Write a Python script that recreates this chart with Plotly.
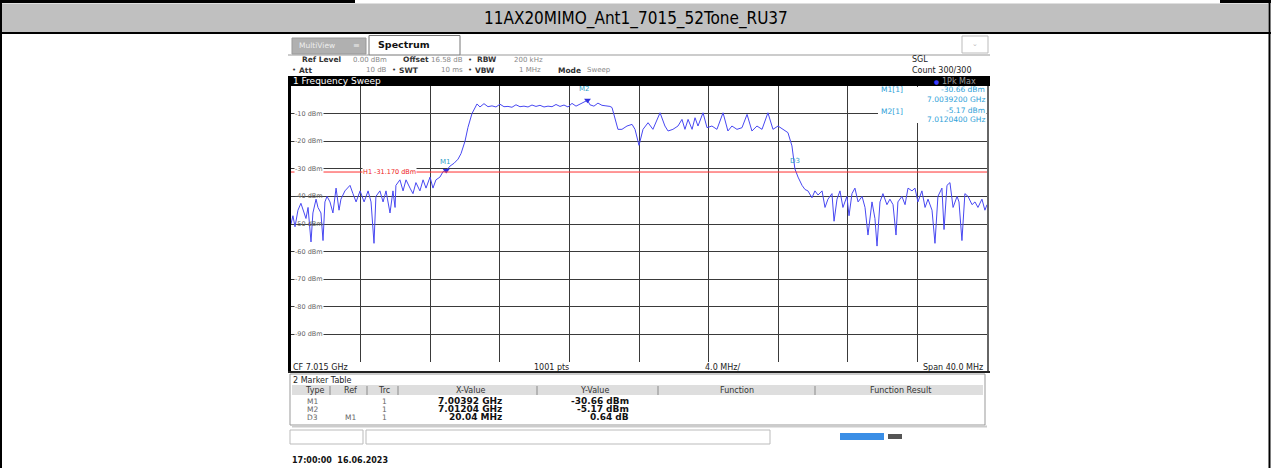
import plotly.graph_objects as go

W, H = 1271, 468

# ---------------- data ----------------
freq_mhz = [
    6995.00, 6995.11, 6995.23, 6995.40, 6995.57, 6995.75, 6995.86, 6995.98, 6996.15, 6996.26,
    6996.44, 6996.55, 6996.72, 6996.84, 6996.95, 6997.07, 6997.24, 6997.41, 6997.59, 6997.76,
    6997.87, 6998.10, 6998.39, 6998.56, 6998.74, 6998.97, 6999.20, 6999.43, 6999.60, 6999.77,
    6999.88, 7000.11, 7000.29, 7000.46, 7000.69, 7000.86, 7000.98, 7001.03, 7001.26, 7001.44,
    7001.61, 7001.84, 7002.01, 7002.18, 7002.41, 7002.59, 7002.76, 7002.99, 7003.16, 7003.33,
    7003.56, 7003.74, 7003.92, 7004.14, 7004.37, 7004.60, 7004.77, 7005.00, 7005.17, 7005.40,
    7005.57, 7005.69,
    7005.86, 7006.09, 7006.32, 7006.55, 7006.78, 7007.01, 7007.24, 7007.47, 7007.70, 7007.93,
    7008.16, 7008.39, 7008.62, 7008.85, 7009.08, 7009.31, 7009.54, 7009.77, 7010.00, 7010.23,
    7010.46, 7010.69, 7010.92, 7011.15, 7011.38, 7011.61, 7011.84, 7012.04, 7012.18, 7012.41,
    7012.64, 7012.87, 7013.10, 7013.33, 7013.45, 7013.62, 7013.79,
    7014.02, 7014.31, 7014.60, 7014.77, 7015.00, 7015.23, 7015.52, 7015.80, 7016.21, 7016.49,
    7016.67, 7016.95, 7017.24, 7017.47, 7017.64, 7017.82, 7018.05, 7018.22, 7018.39, 7018.68,
    7018.91, 7019.19, 7019.48, 7019.83, 7020.11, 7020.34, 7020.63, 7020.92, 7021.21, 7021.49,
    7021.78, 7022.07, 7022.41, 7022.70, 7022.99, 7023.28, 7023.56, 7023.79, 7023.96,
    7024.14, 7024.37, 7024.54, 7024.71, 7024.94, 7025.11, 7025.29, 7025.52, 7025.69, 7025.86,
    7026.09, 7026.21, 7026.38, 7026.55, 7026.72, 7026.95, 7027.07, 7027.24, 7027.41, 7027.59,
    7027.82, 7027.99, 7028.16, 7028.39, 7028.56, 7028.68, 7028.85, 7029.02, 7029.25, 7029.42,
    7029.60, 7029.77, 7029.88, 7030.11, 7030.29, 7030.46, 7030.69, 7030.86, 7031.03, 7031.26,
    7031.44, 7031.61, 7031.84, 7032.01, 7032.18, 7032.41, 7032.53, 7032.70, 7032.87, 7033.05,
    7033.28, 7033.39, 7033.56, 7033.73, 7033.91, 7034.14, 7034.31, 7034.48, 7034.71, 7034.88,
    7035.00,
]
level_dbm = [
    -50, -47, -51, -45, -42.5, -46, -48, -44, -56.5, -46,
    -41, -44, -46, -56, -42, -40, -42, -46, -37, -45,
    -41, -38, -36, -39, -42, -38, -42, -38, -42, -57,
    -40, -38, -42, -38, -46, -38, -44, -36, -34, -38,
    -34, -37, -39, -35, -38, -34, -37, -33, -37, -34,
    -33, -31, -30.66, -29, -28, -26.5, -24.5, -20, -15, -10,
    -8, -6.5,
    -7.6, -6.4, -7.5, -7.2, -7.6, -6.6, -7.5, -7.4, -7.7, -6.8,
    -7.5, -7.3, -7.6, -6.9, -7.4, -7.0, -7.6, -7.3, -7.5, -6.7,
    -7.4, -6.9, -7.6, -6.3, -7.3, -6.5, -6.0, -5.17, -6.8, -7.3,
    -6.2, -7.0, -7.2, -7.4, -7.8, -12.1, -15.7,
    -15.7, -14.5, -13.9, -15.7, -21.5, -15.7, -13.3, -15.7, -9.7, -14.5,
    -16.3, -15.7, -14.5, -12.1, -15.7, -12.1, -15.7, -11.5, -14.5, -9.7,
    -15.1, -14.5, -15.7, -9.7, -16.3, -14.5, -15.7, -15.1, -10.3, -16.3,
    -14.5, -15.7, -9.7, -15.7, -14.5, -15.7, -16.9, -21.7, -30.02,
    -33, -36, -37.5, -38, -40.5, -38, -39.5, -38, -44, -41,
    -39, -49, -41, -38, -44, -40, -47, -39, -37, -42,
    -40, -44, -54, -42, -48, -58, -42, -39, -43, -41,
    -43, -54, -42, -40, -43, -37, -38, -37, -42, -38,
    -44, -41, -45, -57, -40, -37, -52, -36, -35, -44,
    -40, -42, -56, -39, -40, -43, -42, -44, -41, -45,
    -43,
]

marker_names = ["M1", "M2", "D3"]
marker_freq_mhz = [7003.92, 7012.04, 7023.96]
marker_level_dbm = [-30.66, -5.17, -30.02]

display_line_dbm = -31.17
display_line_label = "H1 -31.170 dBm"

y_tick_values = [-10, -20, -30, -40, -50, -60, -70, -80, -90]
y_tick_labels = ["-10 dBm", "-20 dBm", "-30 dBm", "-40 dBm", "-50 dBm",
                 "-60 dBm", "-70 dBm", "-80 dBm", "-90 dBm"]

table_type = ["M1", "M2", "D3"]
table_ref = ["", "", "M1"]
table_trc = ["1", "1", "1"]
table_x = ["7.00392 GHz", "7.01204 GHz", "20.04 MHz"]
table_y = ["-30.66 dBm", "-5.17 dBm", "0.64 dB"]

title_text = "11AX20MIMO_Ant1_7015_52Tone_RU37"

# ---------------- helpers ----------------
def px(x):
    return x / W


def py(y):
    return 1 - y / H


shapes = []
annotations = []
FONT = "DejaVu Sans"


def rect(x0, y0, x1, y1, fill="rgba(0,0,0,0)", line=None, lw=1, layer="above"):
    shapes.append(dict(type="rect", xref="paper", yref="paper",
                       x0=px(x0), x1=px(x1), y0=py(y1), y1=py(y0),
                       fillcolor=fill,
                       line=dict(color=line if line else "rgba(0,0,0,0)", width=lw if line else 0),
                       layer=layer))


def hline(x0, x1, y, color, w):
    shapes.append(dict(type="line", xref="paper", yref="paper",
                       x0=px(x0), x1=px(x1), y0=py(y), y1=py(y),
                       line=dict(color=color, width=w), layer="above"))


def vline(x, y0, y1, color, w):
    shapes.append(dict(type="line", xref="paper", yref="paper",
                       x0=px(x), x1=px(x), y0=py(y0), y1=py(y1),
                       line=dict(color=color, width=w), layer="above"))


def text(x, y, s, size=8, color="#222", anchor="left", bold=False, family=FONT, bg="rgba(0,0,0,0)"):
    annotations.append(dict(xref="paper", yref="paper", x=px(x), y=py(y),
                            text=f"<b>{s}</b>" if bold else s, showarrow=False,
                            xanchor=anchor, yanchor="middle", borderpad=0,
                            font=dict(size=size, color=color, family=family), bgcolor=bg))


# ---------------- figure ----------------
fig = go.Figure()

fig.add_trace(go.Scatter(x=freq_mhz, y=level_dbm, mode="lines",
                         line=dict(color="#4848f2", width=1),
                         hoverinfo="skip", showlegend=False))
fig.add_trace(go.Scatter(x=marker_freq_mhz[:2], y=marker_level_dbm[:2], mode="markers",
                         marker=dict(symbol="triangle-down", size=6, color="#3030e0"),
                         hoverinfo="skip", showlegend=False))

# display line H1
shapes.append(dict(type="line", xref="x", yref="y", x0=6995, x1=7035,
                   y0=display_line_dbm, y1=display_line_dbm,
                   line=dict(color="#ff3030", width=1), layer="above"))
annotations.append(dict(xref="paper", yref="y", x=px(362), y=display_line_dbm,
                        text=display_line_label, showarrow=False, xanchor="left",
                        yanchor="middle", borderpad=0, bgcolor="white",
                        font=dict(size=6.5, color="#ee2020", family=FONT)))

# marker labels
for name, f, lv, dx, dy in zip(marker_names, marker_freq_mhz, marker_level_dbm,
                               [-1, -3, 0], [9, 11, 8]):
    annotations.append(dict(xref="x", yref="y", x=f, y=lv, text=name, showarrow=False,
                            xshift=dx, yshift=dy, xanchor="center", yanchor="middle",
                            font=dict(size=7, color="#30a0c8", family=FONT)))

# y axis level labels inside the grid
for v, lab in zip(y_tick_values, y_tick_labels):
    bg = "rgba(0,0,0,0)" if v in (-40, -50) else "white"
    annotations.append(dict(xref="paper", yref="y", x=px(294), y=v, text=lab,
                            showarrow=False, xanchor="left", yanchor="middle",
                            borderpad=0, bgcolor=bg,
                            font=dict(size=6.5, color="#666", family=FONT)))

# ---- table frame and title ----
hline(0, 355, 1.5, "#000", 3)
hline(1220, 1271, 1.5, "#000", 3)
rect(2, 3.5, 1268, 32.5, fill="#c0c0c0")
hline(0, 1271, 33, "#000", 2)
vline(1, 0, 468, "#000", 2)
vline(1269.5, 0, 468, "#000", 2)
text(636, 18.5, title_text, size=17, color="#000", anchor="center",
     family="Liberation Sans Narrow, DejaVu Sans Condensed, Liberation Sans, sans-serif")

# ---- instrument screenshot chrome ----
rect(292, 38, 366, 54, fill="#b0b0b0", line="#999")
text(298, 46, "MultiView", size=7.5, color="#eeeeee")
text(352, 46, "≡", size=8, color="#eeeeee")
rect(369, 35.5, 460, 55, fill="white", line="#777")
text(377, 45, "Spectrum", size=9.5, color="#111", bold=True)
hline(460, 990, 55, "#999", 1)
hline(288, 369, 55, "#999", 1)
rect(962, 36, 988, 53, fill="white", line="#bbb")
text(975, 44, "⌄", size=7, color="#bbb", anchor="center")

# header settings
text(301, 60, "Ref Level", size=7.5, color="#333", bold=True)
text(388, 60, "0.00 dBm", size=7, color="#888", anchor="right")
text(402, 60, "Offset", size=7.5, color="#333", bold=True)
text(464, 60, "16.58 dB", size=7, color="#888", anchor="right")
text(467, 60, "•", size=7, color="#333")
text(476, 60, "RBW", size=7.5, color="#333", bold=True)
text(513, 60, "200 kHz", size=7, color="#888")

text(291, 70, "•", size=7, color="#333")
text(298, 70, "Att", size=7.5, color="#333", bold=True)
text(388, 70, "10 dB", size=7, color="#888", anchor="right")
text(391, 70, "•", size=7, color="#333")
text(398, 70, "SWT", size=7.5, color="#333", bold=True)
text(464, 70, "10 ms", size=7, color="#888", anchor="right")
text(467, 70, "•", size=7, color="#333")
text(474, 70, "VBW", size=7.5, color="#333", bold=True)
text(542, 70, "1 MHz", size=7, color="#888", anchor="right")
text(557, 70, "Mode", size=7.5, color="#333", bold=True)
text(586, 70, "Sweep", size=7, color="#888")

text(911, 60, "SGL", size=8, color="#222")
text(911, 70, "Count 300/300", size=8, color="#222")

# black title bar of the diagram
rect(288, 76, 990, 86, fill="#000")
text(292, 81, "1 Frequency Sweep", size=9, color="#ffffff")
text(933, 81, "●", size=6, color="#3a3aff")
text(941, 81, "1Pk Max", size=8, color="#9a9a9a")

# diagram borders
vline(289.5, 86, 372, "#000", 3)
vline(988, 86, 372, "#333", 1.5)
hline(288, 990, 372, "#222", 2)

# marker info box (top right)
rect(878, 87, 986.5, 123, fill="white")
mcol = "#2f9fd8"
text(880, 90, "M1[1]", size=7.5, color=mcol)
text(986, 90, "-30.66 dBm", size=7.5, color=mcol, anchor="right")
text(986, 99, "7.0039200 GHz", size=7.5, color=mcol, anchor="right")
text(880, 111, "M2[1]", size=7.5, color=mcol)
text(986, 110, "-5.17 dBm", size=7.5, color=mcol, anchor="right")
text(986, 120, "7.0120400 GHz", size=7.5, color=mcol, anchor="right")

# footer of diagram
text(292, 367, "CF 7.015 GHz", size=8, color="#222")
text(551, 367, "1001 pts", size=8, color="#222", anchor="center")
text(722, 367, "4.0 MHz/", size=8, color="#222", anchor="center")
text(984, 367, "Span 40.0 MHz", size=8, color="#222", anchor="right")

# marker table
rect(290, 374, 985, 425, fill="white", line="#999")
hline(292, 987, 426.5, "#cccccc", 2)
text(292, 380, "2 Marker Table", size=8, color="#222")
rect(292, 385, 983, 395, fill="#dedede")
for sx in [330, 367, 398, 537, 658, 815]:
    vline(sx, 386, 395, "#8a8a8a", 1)
for hx, lab in zip([314, 350, 384, 471, 594, 737, 900],
                   ["Type", "Ref", "Trc", "X-Value", "Y-Value", "Function", "Function Result"]):
    text(hx, 390, lab, size=8, color="#333", anchor="center")
for ry, t, r, c, xv, yv in zip([401, 409, 417], table_type, table_ref, table_trc, table_x, table_y):
    text(312, ry, t, size=7.5, color="#666", anchor="center")
    if r:
        text(350, ry, r, size=7.5, color="#666", anchor="center")
    text(384, ry, c, size=7.5, color="#666", anchor="center")
    text(503, ry, xv, size=9, color="#111", anchor="right", bold=True)
    text(630, ry, yv, size=9, color="#111", anchor="right", bold=True)

# input boxes / status bar
rect(290, 430, 363, 444, fill="white", line="#bbbbbb")
rect(366, 430, 770, 444, fill="white", line="#bbbbbb")
rect(840, 433, 884, 440, fill="#3a8ee6")
rect(888, 434, 902, 439, fill="#555555")

text(291, 460, "17:00:00\u00a0\u00a016.06.2023", size=8, color="#111", bold=True)

fig.update_layout(
    width=W, height=H,
    margin=dict(l=0, r=0, t=0, b=0),
    paper_bgcolor="white", plot_bgcolor="white",
    showlegend=False,
    xaxis=dict(domain=[px(291), px(987)], range=[6995, 7035], tick0=6995, dtick=4,
               showgrid=True, gridcolor="#3a3a3a", gridwidth=1, zeroline=False,
               showticklabels=False, ticks="", showline=False, fixedrange=True),
    yaxis=dict(domain=[py(362), py(86)], range=[-100, 0], tick0=0, dtick=10,
               showgrid=True, gridcolor="#3a3a3a", gridwidth=1, zeroline=False,
               showticklabels=False, ticks="", showline=False, fixedrange=True),
    shapes=shapes,
    annotations=annotations,
)

fig.write_html("out.html", config={"displayModeBar": False},
               post_script="document.body.style.margin='0px';document.body.style.overflow='hidden';")
